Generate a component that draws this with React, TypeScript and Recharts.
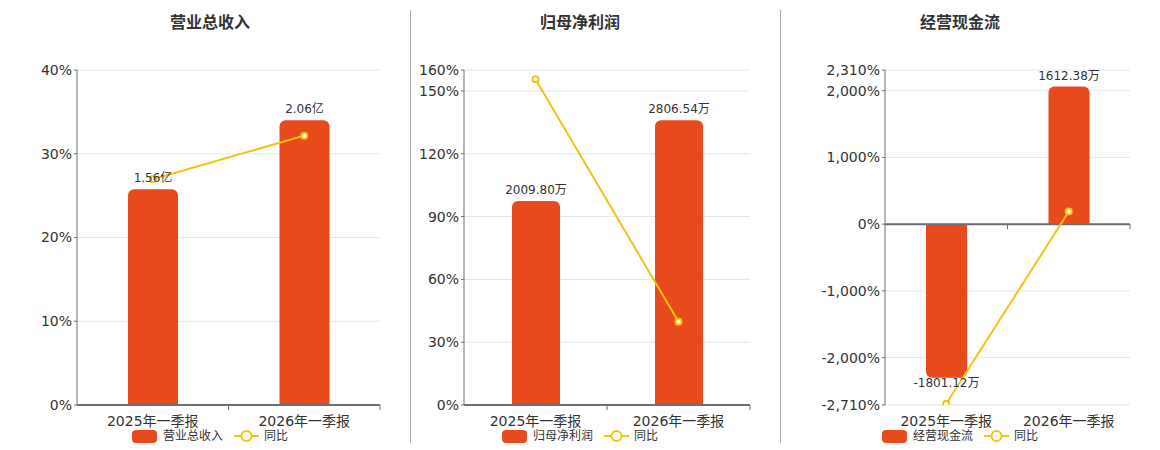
import React from 'react';
import {
  ComposedChart,
  Bar,
  Line,
  XAxis,
  YAxis,
  CartesianGrid,
  ReferenceLine,
  LabelList,
  Legend,
} from 'recharts';

// ---------- data ----------
const categories = ['2025年一季报', '2026年一季报'];

const revenueValues = [1.56, 2.06]; // 亿
const revenueYoy = [26.95, 32.16]; // %
const revenueTicks = [0, 10, 20, 30, 40];

const profitValues = [2009.8, 2806.54]; // 万
const profitYoy = [155.6, 39.8]; // %
const profitTicks = [0, 30, 60, 90, 120, 150, 160];

const cashValues = [-1801.12, 1612.38]; // 万
const cashYoy = [-2692, 190]; // %
const cashTicks = [-2710, -2000, -1000, 0, 1000, 2000, 2310];

// ---------- styles ----------
const BAR_COLOR = '#E84B1B';
const LINE_COLOR = '#F2C40F';
const AXIS_COLOR = '#6E7079';
const GRID_COLOR = '#E0E6F1';
const TEXT_COLOR = '#333';
const FONT = '"DejaVu Sans", "Noto Sans CJK SC", sans-serif';

type ChartCfg = {
  title: string;
  barName: string;
  unit: string;
  values: number[];
  yoy: number[];
  ticks: number[];
  left: number;
  width: number;
  yAxisWidth: number;
  barSize: number;
  legendWidth: number;
  titleCenter: number;
};

const charts: ChartCfg[] = [
  {
    title: '营业总收入',
    barName: '营业总收入',
    unit: '亿',
    values: revenueValues,
    yoy: revenueYoy,
    ticks: revenueTicks,
    left: 0,
    width: 400,
    yAxisWidth: 77,
    barSize: 50,
    legendWidth: 420,
    titleCenter: 210,
  },
  {
    title: '归母净利润',
    barName: '归母净利润',
    unit: '万',
    values: profitValues,
    yoy: profitYoy,
    ticks: profitTicks,
    left: 410,
    width: 360,
    yAxisWidth: 54,
    barSize: 48,
    legendWidth: 340,
    titleCenter: 580,
  },
  {
    title: '经营现金流',
    barName: '经营现金流',
    unit: '万',
    values: cashValues,
    yoy: cashYoy,
    ticks: cashTicks,
    left: 780,
    width: 370,
    yAxisWidth: 105,
    barSize: 41,
    legendWidth: 360,
    titleCenter: 960,
  },
];

const fmtPct = (v: number) => `${v.toLocaleString('en-US')}%`;

const makeLabel = (unit: string) => (props: any) => {
  const vb = props.viewBox || props;
  const x = Number(props.x ?? vb.x);
  const y = Number(props.y ?? vb.y);
  const w = Number(props.width ?? vb.width);
  const h = Number(props.height ?? vb.height);
  const value = Number(props.value);
  const top = Math.min(y, y + h);
  const bottom = Math.max(y, y + h);
  const neg = value < 0;
  return (
    <text
      x={x + w / 2}
      y={neg ? bottom + 9 : top - 7}
      textAnchor="middle"
      fontSize={12}
      fill={TEXT_COLOR}
    >
      {value.toFixed(2) + unit}
    </text>
  );
};

const makeZeroAxis = (n: number) => (props: any) => {
  const x1 = Number(props.x1);
  const x2 = Number(props.x2);
  const y1 = Number(props.y1);
  const y2 = Number(props.y2);
  const marks = [];
  for (let k = 1; k <= n; k++) {
    const mx = x1 + ((x2 - x1) * k) / n;
    marks.push(
      <line key={k} x1={mx} y1={y1} x2={mx} y2={y1 + 5} stroke={AXIS_COLOR} strokeWidth={1} />
    );
  }
  return (
    <g>
      <line x1={x1} y1={y1} x2={x2} y2={y2} stroke={AXIS_COLOR} strokeWidth={2} />
      {marks}
    </g>
  );
};

const LegendContent = (props: any) => {
  const payload = [...(props.payload || [])].sort(
    (a: any, b: any) => (a.type === 'line' ? 1 : 0) - (b.type === 'line' ? 1 : 0)
  );
  return (
    <div
      style={{
        display: 'flex',
        justifyContent: 'center',
        alignItems: 'center',
        height: 14,
        fontSize: 12,
        color: TEXT_COLOR,
        fontFamily: FONT,
      }}
    >
      {payload.map((entry: any, i: number) => (
        <div
          key={i}
          style={{ display: 'flex', alignItems: 'center', marginLeft: i === 0 ? 0 : 11 }}
        >
          {entry.type === 'line' ? (
            <svg width={25} height={14} style={{ marginRight: 5 }}>
              <line x1={0} y1={7} x2={25} y2={7} stroke={LINE_COLOR} strokeWidth={2} />
              <circle cx={12.5} cy={7} r={5} fill="#fff" stroke={LINE_COLOR} strokeWidth={2} />
            </svg>
          ) : (
            <div
              style={{
                width: 25,
                height: 13,
                borderRadius: 4,
                background: BAR_COLOR,
                marginRight: 6,
              }}
            />
          )}
          <span style={{ lineHeight: '14px' }}>{entry.value}</span>
        </div>
      ))}
    </div>
  );
};

function OneChart({ cfg }: { cfg: ChartCfg }) {
  const data = categories.map((name, i) => ({
    name,
    value: cfg.values[i],
    yoy: cfg.yoy[i],
  }));
  const yMin = cfg.ticks[0];
  const yMax = cfg.ticks[cfg.ticks.length - 1];
  const lo = Math.min(0, ...cfg.values);
  const hi = Math.max(0, ...cfg.values);
  let barDomain: [number, number];
  if (lo < 0) {
    const bMin = lo / 0.85;
    barDomain = [bMin, -bMin * (yMax / -yMin)];
  } else {
    barDomain = [0, hi / 0.85];
  }

  return (
    <div style={{ position: 'absolute', left: cfg.left, top: 0 }}>
      <ComposedChart
        width={cfg.width}
        height={450}
        data={data}
        margin={{ top: 70, right: 20, bottom: 15, left: 0 }}
      >
        <CartesianGrid yAxisId="left" vertical={false} stroke={GRID_COLOR} />
        <XAxis
          dataKey="name"
          axisLine={false}
          tickLine={false}
          interval={0}
          height={30}
          tickSize={6}
          tickMargin={5}
          tick={{ fontSize: 14, fill: TEXT_COLOR }}
        />
        <YAxis
          yAxisId="left"
          width={cfg.yAxisWidth}
          domain={[yMin, yMax]}
          ticks={cfg.ticks}
          interval={0}
          allowDataOverflow
          tickFormatter={fmtPct}
          axisLine={{ stroke: AXIS_COLOR }}
          tickLine={{ stroke: AXIS_COLOR }}
          tickSize={3}
          tickMargin={2}
          tick={{ fontSize: 14, fill: TEXT_COLOR }}
        />
        <YAxis yAxisId="bar" orientation="right" hide domain={barDomain} allowDataOverflow />
        <Bar
          yAxisId="bar"
          dataKey="value"
          name={cfg.barName}
          fill={BAR_COLOR}
          barSize={cfg.barSize}
          radius={[6, 6, 0, 0]}
          isAnimationActive={false}
        >
          <LabelList dataKey="value" content={makeLabel(cfg.unit)} />
        </Bar>
        <ReferenceLine yAxisId="left" y={0} shape={makeZeroAxis(categories.length)} />
        <Line
          yAxisId="left"
          type="linear"
          dataKey="yoy"
          name="同比"
          stroke={LINE_COLOR}
          strokeWidth={2}
          dot={{ r: 3, fill: '#fff', stroke: LINE_COLOR, strokeWidth: 2 }}
          activeDot={false}
          isAnimationActive={false}
        />
        <Legend
          layout="horizontal"
          verticalAlign="middle"
          align="center"
          content={<LegendContent />}
          wrapperStyle={{ left: 0, top: 429, width: cfg.legendWidth, height: 14 }}
        />
      </ComposedChart>
    </div>
  );
}

export default function App() {
  return (
    <div
      style={{
        position: 'absolute',
        left: 0,
        top: 0,
        width: 1160,
        height: 450,
        background: '#fff',
        fontFamily: FONT,
      }}
    >
      {charts.map((cfg, i) => (
        <div
          key={'t' + i}
          style={{
            position: 'absolute',
            left: cfg.titleCenter - 100,
            width: 200,
            top: 14,
            textAlign: 'center',
            fontSize: 16,
            fontWeight: 'bold',
            lineHeight: '18px',
            color: TEXT_COLOR,
          }}
        >
          {cfg.title}
        </div>
      ))}
      <div style={{ position: 'absolute', left: 410, top: 10, width: 1, height: 433, background: '#aaa' }} />
      <div style={{ position: 'absolute', left: 780, top: 10, width: 1, height: 433, background: '#aaa' }} />
      {charts.map((cfg, i) => (
        <OneChart key={i} cfg={cfg} />
      ))}
    </div>
  );
}
